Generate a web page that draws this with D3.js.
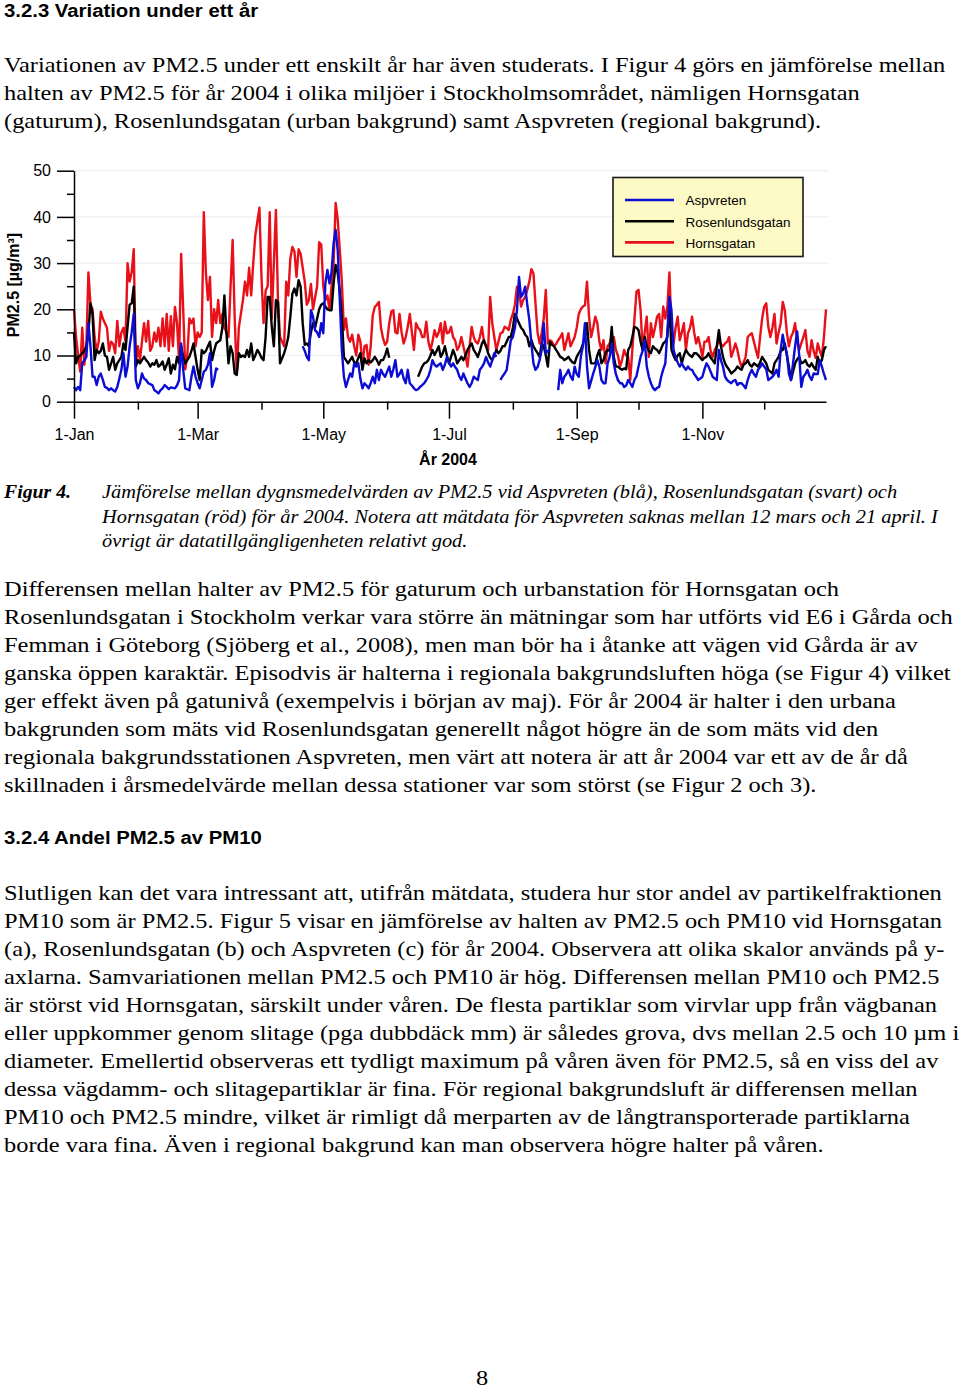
<!DOCTYPE html>
<html>
<head>
<meta charset="utf-8">
<style>
  body { margin: 0; background: #fff; }
  svg { display: block; }
  .serif { font-family: "Liberation Serif", "Times New Roman", serif; fill: #000; }
  .sans { font-family: "Liberation Sans", Arial, sans-serif; fill: #000; }
  .axis path, .axis line { stroke: #000; stroke-width: 1.5px; }
  .axis text { font-family: "Liberation Sans", Arial, sans-serif; font-size: 16px; fill: #000; }
  .grid line { stroke: #ebebeb; stroke-width: 1px; }
  .series { fill: none; stroke-width: 2.4px; stroke-linejoin: round; }
</style>
<script src="https://d3js.org/d3.v7.min.js"></script>
</head>
<body>
<div id="page"></div>
<script>

// daily PM2.5 means for 2004, one value per day from 1 Jan (null = no data)
var aspvreten = [
  3.2, 2.5, 3.2, 2.5, 8.3, 9, 9.7, 17, 12, 5.4,
  5.4, 3.6, 5.4, 6.1, 4.7, 3.2, 3, 2.5, 2.9, 2.5,
  2.2, 3.2, 5, 6.9, 10.5, 5.4, 7.6, 12, 15, 19,
  4.7, 2.9, 4, 6.1, 5, 4.7, 4, 3.8, 3.6, 2.5,
  2.2, 1.8, 2.5, 2.9, 3.6, 3.2, 2.7, 3.1, 3, 2.9,
  3.5, 4.7, 12.6, 6.9, 2.9, 2.7, 2.5, 5.4, 7.6, 5.4,
  4, 2.9, 4.7, 6.5, 6.9, 8, 10.5, 3.2, 4.7, 7.2,
  6.9, null, null, null, null, null, null, null, null, null,
  null, null, null, null, null, null, null, null, null, null,
  null, null, null, null, null, null, null, null, null, null,
  null, null, null, null, null, null, null, null, null, null,
  null, 12, 11, 9.7, 9, 19.8, 18.4, 15.5, 15, 14,
  17, 14.8, 25.6, 28.5, 25.6, 28, 34.3, 37.2, 32.8, 22,
  11.2, 5.4, 3.2, 4.7, 6.1, 5.4, 8.3, 7.6, 8.3, 5,
  2.9, 4, 3.5, 2.9, 4, 5.4, 4, 6.9, 4.7, 6.9,
  6, 5.4, 6.5, 7.6, 5.4, 7, 9, 5.4, 6, 6.9,
  5, 4, 6.9, 4, 3.5, 2.9, 2.5, 2.7, 3.2, 3.6,
  4, 4.7, 5.5, 6.9, 9, 8, 7.6, 8, 8.3, 6.9,
  8, 9.7, 8.5, 7.6, 8.3, 7.5, 6.9, 5.5, 4.7, 6.1,
  5, 4, 3.2, 4, 5.4, 5, 4.7, 6.9, 7.5, 8.3,
  9.7, 8.5, 7.6, 9, 10.5, 9.7, null, 4.7, 5.5, 6.1,
  6.9, 10, 13.3, 14, 16, 19.8, 27, 22.7, 23.4, 24.9,
  21, 17.7, 12.6, 8.3, 6.9, 7.5, 9, 11.2, 17, 10.5,
  11, 11.2, null, null, null, 2.5, 6.9, 4, 5.4, 6,
  6.9, 5.5, 4.7, 7.6, 6, 5.4, 9.7, 12, 17, 7.6,
  2.9, 4.5, 6.1, 7.5, 9, 7.6, 4.7, 4, 4, 8.3,
  9.7, 12.6, 8.3, 6, 4.7, 4, 4, 3.2, 3.5, 4.7,
  4, 3.2, 4.7, 5.5, 7.6, 9.7, 11, 13.3, 7.6, 5.5,
  4, 3, 2.5, 3, 3.2, 5.4, 7, 8.3, 15, 22.7,
  19.8, 11.2, 9.7, 8.5, 7.6, 8.3, 7.5, 6.9, 7.6, 7,
  6.9, 6, 5.4, 4.7, 5, 5.4, 7, 8.3, 7.6, 6.5,
  5.4, 5, 4.7, 11.2, 9, 7.6, 5.4, 4.7, 4.3, 4,
  4.5, 4.7, 3.6, 4, 4, 3.5, 2.9, 4.7, 6, 6.9,
  6, 5.4, 6.9, 7.5, 8.3, 7.6, 7, 4.7, 5, 5.4,
  6, 6.9, 5.4, 11.2, 14.5, 12, 10.5, 6, 4.7, 8.3,
  12, 15.2, 10, 3.2, 5.4, 6, 6.9, 5.5, 4.7, 6.1,
  6, 6, 9, 7.6, 6, 4.7
];

var rosenlundsgatan = [
  15, 8.3, 9.7, 10, 10.5, 11, 12, 15, 21.3, 19,
  9, 11.2, 10.5, 11, 12.6, 10, 9.7, 6.9, 8.3, 9.7,
  6.9, 8.3, 9, 9.7, 12.6, 11.2, 16.2, 21, 21.3, 24.9,
  7.6, 9, 8.3, 9, 9.7, 9, 8.5, 7.6, 8.3, 8,
  9, 7.6, 8, 8.7, 6.9, 8, 9.4, 6.1, 8, 7,
  9.7, 8.3, 12, 9.7, 8.3, 9, 9.7, 11, 12.6, 9.7,
  6.9, 4.7, 11.2, 10.5, 11, 12, 13, 9, 11, 12.6,
  13, 13.3, 16, 23, 14.8, 8.3, 12, 10.5, 6.1, 5.8,
  10.5, 9.7, 10, 9.7, 11.2, 9.7, 12.6, 9, 10, 11.2,
  10.5, 9.5, 9, 14, 22.7, 22.7, 16.2, 12, 22, 21.6,
  8.3, 9.4, 10.5, 12, 14, 18.4, 23.4, 24.5, 23, 26.3,
  24.9, 17, 12.3, 12.6, 12, 15, 17, 16, 18, 20,
  21, 21.3, 20.6, 20, 19.8, 19.8, 25.6, 29.6, 27.8, 24,
  18.4, 9.7, 9, 8.3, 9, 9.7, 8.5, 8.3, 9.5, 10.5,
  6.9, 9.4, 8.3, 9, 8.5, 9, 9.7, 9, 8, 9,
  9, 10, 11.5, 9.5, null, null, null, null, null, null,
  null, null, null, null, null, null, null, 5.4, 6.5, 7.6,
  8.3, 8.5, 9, 10, 11.2, 10.1, 11, 12, 9.7, 10.5,
  12, 10, 8.3, 9.7, 11.2, 10, 8.3, 9, 9.7, 9,
  10, 11.2, 12, 12.6, 11.2, 10.5, 9.7, 11, 12.6, 13.3,
  12, 10.5, 9.5, 9, 10, 11.2, 10.5, 11, 12, 12,
  13, 14, 14, 16, 19, 18, 17, 16, 15.5, 14.5,
  14, 12, 13.3, 12, 11.2, 10.5, 9.7, 12.6, 12, 10,
  7.6, 13, 12.3, 12, 11.2, 10.5, 9.7, 9.5, 9, 9.3,
  9.7, 9, 8.5, 8.3, 9.7, 10.5, 11.2, 12.5, 14, 17,
  11.2, 8.3, 8.3, 8.3, 10, 11.2, 8.3, 9, 10.5, 11.2,
  11, 16.2, 9.7, 7.6, 7.6, 7.2, 6.9, 7.2, 7, 11.2,
  12, 14, 16.2, 16, 15.5, 13, 11.2, 14, 12, 11,
  10.5, 12, 11.5, 11.2, 10.5, 11.5, 12.6, 13, 14, 21.3,
  11.2, 10, 9, 10, 10.5, 8.3, 10, 11.2, 10.5, 10,
  9.7, 10.5, 10.5, 10.1, 9.5, 9, 9.5, 9.7, 10.5, 9.5,
  9, 8.3, 12, 15.5, 12, 9.7, 8.3, 7.5, 6.9, 6.1,
  6.5, 6.9, 7.6, 7.2, 6.9, 8, 8.3, 9, 8, 7.6,
  8.3, 8, 7.6, 8.5, 9.7, 9, 8.3, 6.9, 6.5, 6.1,
  8.3, 9, 9.7, 11, 11.2, 12.6, 10, 7.6, 4.7, 6.5,
  8.3, 9.2, 9.7, 8.3, 8.5, 9, 8, 7.6, 8.3, 7.5,
  6.9, 9.7, 8.3, 9, 11.2, 12
];

var hornsgatan = [
  20, 14, 10, 6.5, 16, 8, 12, 28, 21, 20,
  14, 11, 13, 19.5, 18, 17, 16, 11, 13, 12.5,
  10.5, 17.5, 12, 15, 16, 13, 30, 26, 28, 33,
  8, 12, 9, 13, 17, 13, 17.5, 11, 12, 15,
  13, 16, 12, 18, 12, 19, 11, 18.5, 12, 20.5,
  17, 9, 32, 20, 7, 10, 18, 17, 18, 12,
  15, 14, 15, 41, 28, 22, 27, 14, 20, 17,
  22, 17, 19, 16, 15, 14, 25, 35, 18, 6,
  16, 19, 22, 26, 23, 29, 23, 30, 36, 39,
  42, 27, 17, 24, 25, 41, 18, 30, 41.5, 22,
  14, 13, 12, 26, 23, 31, 33.5, 32.5, 27, 33,
  32, 29, 26, 21, 22, 25.5, 20, 22.5, 25, 34.5,
  34, 25, 22, 23, 20, 25, 30, 43, 39.5, 33,
  26, 15.5, 18, 14, 13, 14.5, 12, 10, 14.5, 13,
  8, 12, 12.3, 8, 12, 18.7, 20.5, 21, 21.6, 16,
  13.7, 12.3, 13, 17, 19.5, 19.8, 15, 14.8, 19, 15,
  12.6, 14, 16.2, 19, 15, 11.2, 17, 16, 15.5, 14,
  14, 17.3, 13, 11.2, 13, 15.5, 14, 15, 17, 12.6,
  17.3, 14.8, 15, 16.2, 14, 13.3, 11.2, 12, 14, 12,
  10, 7.6, 12, 16.2, 14, 13, 12.6, 14, 16.2, 13,
  12, 11.2, 22.7, 17, 14, 11.2, 13, 14.8, 15, 16.2,
  16, 15.5, 17.7, 19, 21, 24.9, 24.2, 20.6, 22, 22.7,
  24.2, 26, 28.7, 27.8, 21.3, 15, 12.6, 14.8, 18, 24.2,
  12.6, 13.3, 13, 12, 12.5, 13.3, 14, 14.8, 11.2, 13,
  14.8, 12, 13, 14, 16, 19, 20, 20.6, 20.9, 26,
  18.4, 14, 16, 18.4, 17, 13, 11.2, 13.3, 8.3, 12,
  12.6, 14, 14, 11.2, 10, 7.6, 9, 11.2, 10, 9.7,
  4.7, 11.2, 17.7, 23.8, 24.2, 19.8, 11.2, 15, 18.4, 9.7,
  17, 14, 16, 18.4, 19, 14, 20.6, 18, 20.6, 28,
  15.5, 12.6, 16, 18.4, 13.3, 15, 17, 11.2, 14.8, 16,
  18.4, 15, 12.6, 14, 12, 9.7, 13, 13, 14, 11,
  9.7, 11.2, 12, 13.3, 12.5, 12, 12.6, 13, 14, 9.7,
  11, 12.6, 11.2, 9, 7.6, 8.5, 9.7, 14, 14.5, 14.8,
  13, 11.2, 9.5, 14, 18, 20.6, 21.3, 16.2, 14, 16,
  19, 12.6, 15, 17, 21.6, 19.8, 15, 12, 14, 15,
  17, 13, 11.2, 12.6, 14, 15.5, 11, 9.7, 13.3, 11,
  9.5, 12.6, 11, 9.7, 14, 20
];

var seriesNames = ["Aspvreten", "Rosenlundsgatan", "Hornsgatan"];
var seriesColors = ["#0c0cd4", "#000000", "#e8111a"];

var xMajorTicks = ["2004-01-01", "2004-03-01", "2004-05-01", "2004-07-01", "2004-09-01", "2004-11-01"];
var xMinorTicks = ["2004-02-01", "2004-04-01", "2004-06-01", "2004-08-01", "2004-10-01", "2004-12-01"];
var yMajorTicks = [0, 10, 20, 30, 40, 50];
var yMinorTicks = [5, 15, 25, 35, 45];

var para1 = [
  "Variationen av PM2.5 under ett enskilt år har även studerats. I Figur 4 görs en jämförelse mellan",
  "halten av PM2.5 för år 2004 i olika miljöer i Stockholmsområdet, nämligen Hornsgatan",
  "(gaturum), Rosenlundsgatan (urban bakgrund) samt Aspvreten (regional bakgrund)."
];
var caption = [
  "Jämförelse mellan dygnsmedelvärden av PM2.5 vid Aspvreten (blå), Rosenlundsgatan (svart) och",
  "Hornsgatan (röd) för år 2004. Notera att mätdata för Aspvreten saknas mellan 12 mars och 21 april. I",
  "övrigt är datatillgängligenheten relativt god."
];
var para2 = [
  "Differensen mellan halter av PM2.5 för gaturum och urbanstation för Hornsgatan och",
  "Rosenlundsgatan i Stockholm verkar vara större än mätningar som har utförts vid E6 i Gårda och",
  "Femman i Göteborg (Sjöberg et al., 2008), men man bör ha i åtanke att vägen vid Gårda är av",
  "ganska öppen karaktär. Episodvis är halterna i regionala bakgrundsluften höga (se Figur 4) vilket",
  "ger effekt även på gatunivå (exempelvis i början av maj). För år 2004 är halter i den urbana",
  "bakgrunden som mäts vid Rosenlundsgatan generellt något högre än de som mäts vid den",
  "regionala bakgrundsstationen Aspvreten, men värt att notera är att år 2004 var ett av de år då",
  "skillnaden i årsmedelvärde mellan dessa stationer var som störst (se Figur 2 och 3)."
];
var para3 = [
  "Slutligen kan det vara intressant att, utifrån mätdata, studera hur stor andel av partikelfraktionen",
  "PM10 som är PM2.5. Figur 5 visar en jämförelse av halten av PM2.5 och PM10 vid Hornsgatan",
  "(a), Rosenlundsgatan (b) och Aspvreten (c) för år 2004. Observera att olika skalor används på y-",
  "axlarna. Samvariationen mellan PM2.5 och PM10 är hög. Differensen mellan PM10 och PM2.5",
  "är störst vid Hornsgatan, särskilt under våren. De flesta partiklar som virvlar upp från vägbanan",
  "eller uppkommer genom slitage (pga dubbdäck mm) är således grova, dvs mellan 2.5 och 10 µm i",
  "diameter. Emellertid observeras ett tydligt maximum på våren även för PM2.5, så en viss del av",
  "dessa vägdamm- och slitagepartiklar är fina. För regional bakgrundsluft är differensen mellan",
  "PM10 och PM2.5 mindre, vilket är rimligt då merparten av de långtransporterade partiklarna",
  "borde vara fina. Även i regional bakgrund kan man observera högre halter på våren."
];

var svg = d3.select("#page")
  .append("svg")
    .attr("width", 960)
    .attr("height", 1390);

svg.append("rect").attr("width", 960).attr("height", 1390).attr("fill", "#fff");

// ---- page text ----
// the page text is a little wider than plain Times/Arial, so each line gets a horizontal stretch
function textBlock(lines, x, y0, step, cls, size, style, weight, sx) {
  svg.append("g").selectAll("text")
    .data(lines)
    .enter().append("text")
      .attr("class", cls)
      .attr("transform", function(d, i) {
        return "translate(" + x + "," + (y0 + i * step) + ") scale(" + (sx || 1) + ",1)";
      })
      .style("font-size", size + "px")
      .style("font-style", style || "normal")
      .style("font-weight", weight || "normal")
      .text(function(d) { return d; });
}

textBlock(["3.2.3 Variation under ett år"], 4, 17, 0, "sans", 18, null, "bold", 1.13);
textBlock(para1, 4, 72, 28, "serif", 21.6, null, null, 1.131);
textBlock(["Figur 4."], 4, 498, 0, "serif", 19.8, "italic", "bold");
textBlock(caption, 102, 498, 24.5, "serif", 19.8, "italic", null, 1.03);
textBlock(para2, 4, 595.5, 28, "serif", 21.6, null, null, 1.131);
textBlock(["3.2.4 Andel PM2.5 av PM10"], 4, 844, 0, "sans", 18, null, "bold", 1.13);
textBlock(para3, 4, 899.5, 28, "serif", 21.6, null, null, 1.131);
svg.append("text").attr("class", "serif")
  .attr("transform", "translate(482,1385) scale(1.13,1)")
  .attr("text-anchor", "middle").style("font-size", "21.6px").text("8");

// ---- chart ----
var parseDay = d3.timeParse("%Y-%m-%d");
var start = new Date(2004, 0, 1);

var x = d3.scaleTime()
  .domain([start, new Date(2004, 11, 31)])
  .range([74, 826]);

var y = d3.scaleLinear()
  .domain([0, 50])
  .range([401.7, 170.7]);

// gridlines
svg.append("g").attr("class", "grid")
  .selectAll("line")
  .data(yMajorTicks.slice(1))
  .enter().append("line")
    .attr("x1", 74).attr("x2", 828)
    .attr("y1", function(d) { return y(d); })
    .attr("y2", function(d) { return y(d); });

var line = d3.line()
  .defined(function(d) { return d != null; })
  .x(function(d, i) { return x(d3.timeDay.offset(start, i)); })
  .y(function(d) { return y(d); });

var allSeries = [aspvreten, rosenlundsgatan, hornsgatan];
// draw Hornsgatan first so the lower series stay visible
[2, 1, 0].forEach(function(k) {
  svg.append("path")
    .datum(allSeries[k])
    .attr("class", "series")
    .attr("stroke", seriesColors[k])
    .attr("d", line);
});

// y axis
svg.append("g")
  .attr("class", "axis")
  .attr("transform", "translate(74,0)")
  .call(d3.axisLeft(y).tickValues(yMajorTicks).tickSize(17).tickSizeOuter(0).tickPadding(6));
svg.append("g")
  .attr("class", "axis")
  .attr("transform", "translate(74,0)")
  .call(d3.axisLeft(y).tickValues(yMinorTicks).tickSize(7).tickSizeOuter(0).tickFormat(""))
  .select(".domain").remove();

// x axis
svg.append("g")
  .attr("class", "axis")
  .attr("transform", "translate(0,401.7)")
  .call(d3.axisBottom(x)
    .tickValues(xMajorTicks.map(parseDay))
    .tickSize(17).tickSizeOuter(0).tickPadding(10)
    .tickFormat(d3.timeFormat("%-d-%b")));
svg.append("g")
  .attr("class", "axis")
  .attr("transform", "translate(0,401.7)")
  .call(d3.axisBottom(x).tickValues(xMinorTicks.map(parseDay)).tickSize(8).tickSizeOuter(0).tickFormat(""))
  .select(".domain").remove();

svg.append("text")
  .attr("class", "sans")
  .attr("x", 448).attr("y", 465)
  .attr("text-anchor", "middle")
  .style("font-size", "16px").style("font-weight", "bold")
  .text("År 2004");

svg.append("text")
  .attr("class", "sans")
  .attr("transform", "translate(19,285) rotate(-90)")
  .attr("text-anchor", "middle")
  .style("font-size", "16px").style("font-weight", "bold")
  .text("PM2.5 [µg/m³]");

// legend
var legend = svg.append("g").attr("transform", "translate(613,177.5)");
legend.append("rect")
  .attr("width", 190).attr("height", 79)
  .attr("fill", "#fdfac6")
  .attr("stroke", "#1a1a1a").attr("stroke-width", 1.6);
var item = legend.selectAll(".item")
  .data(seriesNames)
  .enter().append("g")
    .attr("transform", function(d, i) { return "translate(0," + (22.5 + i * 21.2) + ")"; });
item.append("line")
  .attr("x1", 12).attr("x2", 61)
  .attr("stroke-width", 2.6)
  .attr("stroke", function(d, i) { return seriesColors[i]; });
item.append("text")
  .attr("class", "sans")
  .attr("x", 72.5).attr("y", 5.3)
  .style("font-size", "13.5px")
  .text(function(d) { return d; });

</script>
</body>
</html>
